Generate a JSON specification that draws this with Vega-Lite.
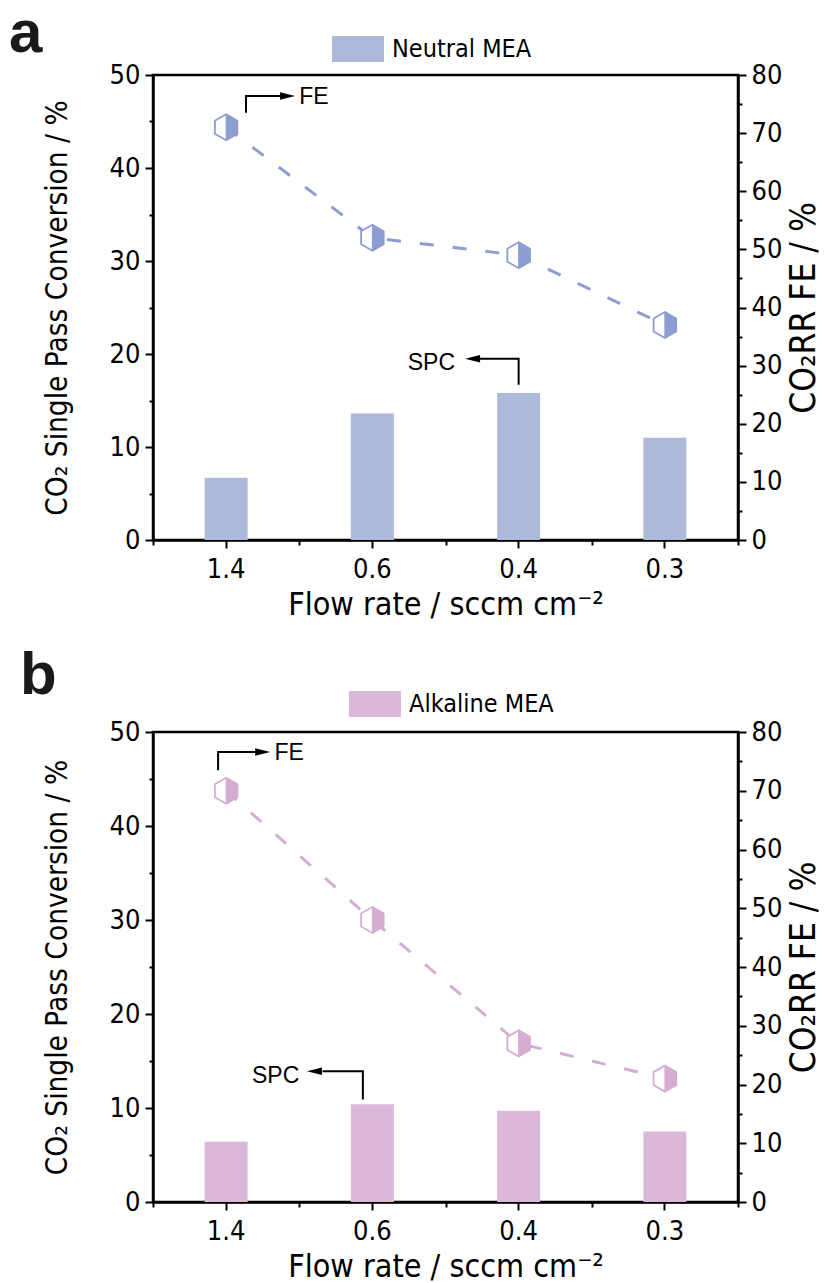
{
  "$schema": "https://vega.github.io/schema/vega-lite/v6.json",
  "padding": {"left": 7, "top": 2, "right": 5, "bottom": 0},
  "background": "white",
  "config": {
    "font": "Liberation Sans",
    "view": {"stroke": "black", "strokeWidth": 2.5},
    "axis": {
      "domainColor": "black", "domainWidth": 2.5,
      "tickColor": "black", "tickWidth": 2,
      "labelColor": "black", "titleColor": "black",
      "labelFont": "DejaVu Sans Condensed, Liberation Sans",
      "titleFont": "DejaVu Sans Condensed, Liberation Sans",
      "labelFontSize": 27, "titleFontSize": 29.5, "titleFontWeight": "normal",
      "grid": false
    },
    "legend": {
      "orient": "none", "title": null,
      "symbolType": "M-1,-0.5H1V0.5H-1Z", "symbolSize": 2704,
      "symbolStrokeWidth": 0, "symbolOpacity": 1,
      "labelFont": "DejaVu Sans Condensed, Liberation Sans",
      "labelFontSize": 25, "labelColor": "black",
      "labelOffset": 8
    }
  },
  "spacing": 22,
  "resolve": {"scale": {"x": "independent", "y": "independent", "fill": "independent"}, "legend": {"fill": "independent"}},
  "vconcat": [
    {
      "width": 585, "height": 465,
      "title": {"text": "a", "anchor": "start", "frame": "group", "dx": -144, "dy": 42, "offset": 0, "fontSize": 60, "fontWeight": "bold", "color": "#1a1a1a"},
      "data": {"values": [
        {"flow": "1.4", "spc": 6.7, "fe": 71},
        {"flow": "0.6", "spc": 13.6, "fe": 52},
        {"flow": "0.4", "spc": 15.8, "fe": 49},
        {"flow": "0.3", "spc": 11.0, "fe": 37}
      ]},
      "resolve": {"scale": {"y": "independent"}, "axis": {"x": "independent"}},
      "layer": [
        {
          "encoding": {
            "x": {"field": "flow", "type": "nominal", "scale": {"domain": ["1.4", "0.6", "0.4", "0.3"], "paddingInner": 0, "paddingOuter": 0},
                  "axis": {"title": "Flow rate / sccm cm⁻²", "labelAngle": 0, "tickSize": 8, "labelPadding": 8, "titlePadding": 7, "titleFontSize": 32}},
            "y": {"field": "spc", "type": "quantitative", "scale": {"domain": [0, 50]},
                  "axis": {"title": "CO₂ Single Pass Conversion / %", "values": [0, 5, 10, 15, 20, 25, 30, 35, 40, 45, 50],
                           "labelExpr": "datum.value % 10 === 0 ? datum.label : ''",
                           "tickSize": {"condition": {"test": "datum.value % 10 === 0", "value": 8}, "value": 4},
                           "labelPadding": 5, "titlePadding": 37}}
          },
          "layer": [
            {
              "mark": {"type": "bar", "width": 43},
              "encoding": {
                "fill": {"datum": "Neutral MEA", "scale": {"range": ["#ACB9DB"]}, "legend": {"legendX": 179, "legendY": -52}}
              }
            },
            {
              "data": {"values": [
                {"flow": "0.4", "off": 0.5, "spc": 16.7, "k": 0},
                {"flow": "0.4", "off": 0.5, "spc": 19.5, "k": 1},
                {"flow": "0.4", "off": 0.2, "spc": 19.5, "k": 2}
              ]},
              "mark": {"type": "line", "color": "black", "strokeWidth": 2},
              "encoding": {"xOffset": {"field": "off", "type": "quantitative", "scale": {"domain": [0, 1]}}, "order": {"field": "k"}}
            },
            {
              "data": {"values": [{"flow": "0.4", "off": 0.185, "spc": 19.5}]},
              "mark": {"type": "point", "shape": "M-1,0L1,-0.5L1,0.5Z", "size": 225, "filled": true, "color": "black", "opacity": 1},
              "encoding": {"xOffset": {"field": "off", "type": "quantitative", "scale": {"domain": [0, 1]}}}
            },
            {
              "data": {"values": [{"flow": "0.4", "off": 0.065, "spc": 19.0, "label": "SPC"}]},
              "mark": {"type": "text", "align": "right", "baseline": "middle", "fontSize": 23, "color": "black"},
              "encoding": {"xOffset": {"field": "off", "type": "quantitative", "scale": {"domain": [0, 1]}}, "text": {"field": "label"}}
            }
          ]
        },
        {
          "encoding": {
            "x": {"field": "flow", "type": "nominal", "scale": {"domain": ["1.4", "0.6", "0.4", "0.3"], "paddingInner": 0, "paddingOuter": 0},
                  "axis": {"orient": "bottom", "tickBand": "extent", "labels": false, "domain": false, "tickSize": 5, "title": null}},
            "y": {"field": "fe", "type": "quantitative", "scale": {"domain": [0, 80]},
                  "axis": {"orient": "right", "title": "CO₂RR FE / %", "values": [0, 5, 10, 15, 20, 25, 30, 35, 40, 45, 50, 55, 60, 65, 70, 75, 80],
                           "labelExpr": "datum.value % 10 === 0 ? datum.label : ''",
                           "tickSize": {"condition": {"test": "datum.value % 10 === 0", "value": 8}, "value": 4},
                           "labelPadding": 5, "titlePadding": 5, "titleAngle": 270, "titleBaseline": "top", "titleFontSize": 35}}
          },
          "layer": [
            {
              "mark": {"type": "line", "color": "#8C9DD1", "strokeWidth": 3, "strokeDash": [14, 19]}
            },
            {
              "mark": {"type": "point", "shape": "M0,-1L0.866,-0.5L0.866,0.5L0,1L-0.866,0.5L-0.866,-0.5Z", "size": 676, "filled": true, "fill": "white", "stroke": "#8C9DD1", "strokeWidth": 1.8, "opacity": 1}
            },
            {
              "mark": {"type": "point", "shape": "M0,-1L0.866,-0.5L0.866,0.5L0,1Z", "size": 676, "filled": true, "fill": "#8C9DD1", "stroke": "#8C9DD1", "strokeWidth": 1, "opacity": 1}
            },
            {
              "data": {"values": [
                {"flow": "1.4", "off": 0.636, "fe": 73.5, "k": 0},
                {"flow": "1.4", "off": 0.636, "fe": 76.4, "k": 1},
                {"flow": "1.4", "off": 0.875, "fe": 76.4, "k": 2}
              ]},
              "mark": {"type": "line", "color": "black", "strokeWidth": 2},
              "encoding": {"xOffset": {"field": "off", "type": "quantitative", "scale": {"domain": [0, 1]}}, "order": {"field": "k"}}
            },
            {
              "data": {"values": [{"flow": "1.4", "off": 0.92, "fe": 76.4}]},
              "mark": {"type": "point", "shape": "M1,0L-1,-0.5L-1,0.5Z", "size": 225, "filled": true, "color": "black", "opacity": 1},
              "encoding": {"xOffset": {"field": "off", "type": "quantitative", "scale": {"domain": [0, 1]}}}
            },
            {
              "data": {"values": [{"flow": "1.4", "off": 1.0, "fe": 76.3, "label": "FE"}]},
              "mark": {"type": "text", "align": "left", "baseline": "middle", "fontSize": 23, "color": "black"},
              "encoding": {"xOffset": {"field": "off", "type": "quantitative", "scale": {"domain": [0, 1]}}, "text": {"field": "label"}}
            }
          ]
        }
      ]
    },
    {
      "width": 585, "height": 470,
      "title": {"text": "b", "anchor": "start", "frame": "group", "dx": -133, "dy": 29, "offset": 0, "fontSize": 60, "fontWeight": "bold", "color": "#1a1a1a"},
      "data": {"values": [
        {"flow": "1.4", "spc": 6.4, "fe": 70},
        {"flow": "0.6", "spc": 10.4, "fe": 48},
        {"flow": "0.4", "spc": 9.7, "fe": 27},
        {"flow": "0.3", "spc": 7.5, "fe": 21}
      ]},
      "resolve": {"scale": {"y": "independent"}, "axis": {"x": "independent"}},
      "layer": [
        {
          "encoding": {
            "x": {"field": "flow", "type": "nominal", "scale": {"domain": ["1.4", "0.6", "0.4", "0.3"], "paddingInner": 0, "paddingOuter": 0},
                  "axis": {"title": "Flow rate / sccm cm⁻²", "labelAngle": 0, "tickSize": 8, "labelPadding": 8, "titlePadding": 7, "titleFontSize": 32}},
            "y": {"field": "spc", "type": "quantitative", "scale": {"domain": [0, 50]},
                  "axis": {"title": "CO₂ Single Pass Conversion / %", "values": [0, 5, 10, 15, 20, 25, 30, 35, 40, 45, 50],
                           "labelExpr": "datum.value % 10 === 0 ? datum.label : ''",
                           "tickSize": {"condition": {"test": "datum.value % 10 === 0", "value": 8}, "value": 4},
                           "labelPadding": 5, "titlePadding": 37}}
          },
          "layer": [
            {
              "mark": {"type": "bar", "width": 43},
              "encoding": {
                "fill": {"datum": "Alkaline MEA", "scale": {"range": ["#DBB8DA"]}, "legend": {"legendX": 196, "legendY": -54}}
              }
            },
            {
              "data": {"values": [
                {"flow": "0.6", "off": 0.435, "spc": 10.9, "k": 0},
                {"flow": "0.6", "off": 0.435, "spc": 13.9, "k": 1},
                {"flow": "0.6", "off": 0.16, "spc": 13.9, "k": 2}
              ]},
              "mark": {"type": "line", "color": "black", "strokeWidth": 2},
              "encoding": {"xOffset": {"field": "off", "type": "quantitative", "scale": {"domain": [0, 1]}}, "order": {"field": "k"}}
            },
            {
              "data": {"values": [{"flow": "0.6", "off": 0.104, "spc": 13.9}]},
              "mark": {"type": "point", "shape": "M-1,0L1,-0.5L1,0.5Z", "size": 225, "filled": true, "color": "black", "opacity": 1},
              "encoding": {"xOffset": {"field": "off", "type": "quantitative", "scale": {"domain": [0, 1]}}}
            },
            {
              "data": {"values": [{"flow": "0.6", "off": 0.0, "spc": 13.4, "label": "SPC"}]},
              "mark": {"type": "text", "align": "right", "baseline": "middle", "fontSize": 23, "color": "black"},
              "encoding": {"xOffset": {"field": "off", "type": "quantitative", "scale": {"domain": [0, 1]}}, "text": {"field": "label"}}
            }
          ]
        },
        {
          "encoding": {
            "x": {"field": "flow", "type": "nominal", "scale": {"domain": ["1.4", "0.6", "0.4", "0.3"], "paddingInner": 0, "paddingOuter": 0},
                  "axis": {"orient": "bottom", "tickBand": "extent", "labels": false, "domain": false, "tickSize": 5, "title": null}},
            "y": {"field": "fe", "type": "quantitative", "scale": {"domain": [0, 80]},
                  "axis": {"orient": "right", "title": "CO₂RR FE / %", "values": [0, 5, 10, 15, 20, 25, 30, 35, 40, 45, 50, 55, 60, 65, 70, 75, 80],
                           "labelExpr": "datum.value % 10 === 0 ? datum.label : ''",
                           "tickSize": {"condition": {"test": "datum.value % 10 === 0", "value": 8}, "value": 4},
                           "labelPadding": 5, "titlePadding": 5, "titleAngle": 270, "titleBaseline": "top", "titleFontSize": 35}}
          },
          "layer": [
            {
              "mark": {"type": "line", "color": "#D5ADD3", "strokeWidth": 3, "strokeDash": [14, 19]}
            },
            {
              "mark": {"type": "point", "shape": "M0,-1L0.866,-0.5L0.866,0.5L0,1L-0.866,0.5L-0.866,-0.5Z", "size": 676, "filled": true, "fill": "white", "stroke": "#D5ADD3", "strokeWidth": 1.8, "opacity": 1}
            },
            {
              "mark": {"type": "point", "shape": "M0,-1L0.866,-0.5L0.866,0.5L0,1Z", "size": 676, "filled": true, "fill": "#D5ADD3", "stroke": "#D5ADD3", "strokeWidth": 1, "opacity": 1}
            },
            {
              "data": {"values": [
                {"flow": "1.4", "off": 0.445, "fe": 73.5, "k": 0},
                {"flow": "1.4", "off": 0.445, "fe": 76.6, "k": 1},
                {"flow": "1.4", "off": 0.7, "fe": 76.6, "k": 2}
              ]},
              "mark": {"type": "line", "color": "black", "strokeWidth": 2},
              "encoding": {"xOffset": {"field": "off", "type": "quantitative", "scale": {"domain": [0, 1]}}, "order": {"field": "k"}}
            },
            {
              "data": {"values": [{"flow": "1.4", "off": 0.75, "fe": 76.6}]},
              "mark": {"type": "point", "shape": "M1,0L-1,-0.5L-1,0.5Z", "size": 225, "filled": true, "color": "black", "opacity": 1},
              "encoding": {"xOffset": {"field": "off", "type": "quantitative", "scale": {"domain": [0, 1]}}}
            },
            {
              "data": {"values": [{"flow": "1.4", "off": 0.83, "fe": 76.4, "label": "FE"}]},
              "mark": {"type": "text", "align": "left", "baseline": "middle", "fontSize": 23, "color": "black"},
              "encoding": {"xOffset": {"field": "off", "type": "quantitative", "scale": {"domain": [0, 1]}}, "text": {"field": "label"}}
            }
          ]
        }
      ]
    }
  ]
}
